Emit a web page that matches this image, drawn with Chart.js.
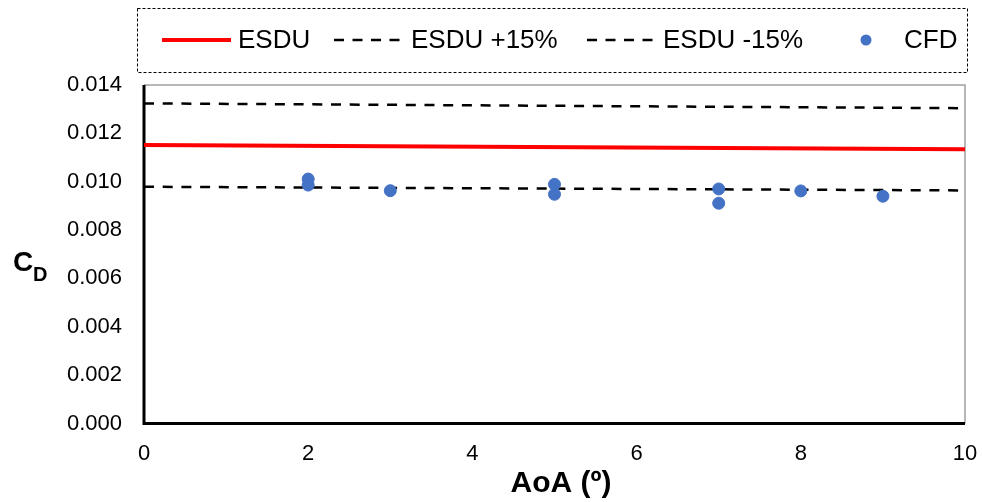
<!DOCTYPE html>
<html lang="en">
<head>
  <meta charset="UTF-8">
  <title>CD vs AoA</title>
  <script src="https://cdn.jsdelivr.net/npm/chart.js"></script>
  <style>
    body { margin: 0; background: #fff; }
    #wrap { width: 982px; height: 502px; }
  </style>
</head>
<body>
  <div id="wrap"><canvas id="cdChart"></canvas></div>

  <script>
    // line data (AoA endpoints)
    const aoaLine = [0, 10];
    const esdu = [0.01152, 0.01134];
    const esduPlus = [0.01324, 0.01304];
    const esduMinus = [0.00979, 0.00964];

    // CFD points
    const cfdAoa = [2, 2, 3, 5, 5, 7, 7, 8, 9];
    const cfdCd = [0.01011, 0.00986, 0.00963, 0.00989, 0.00948, 0.00970, 0.00911, 0.00962, 0.00940];

    const xTicks = [0, 2, 4, 6, 8, 10];
    const yTicks = [0, 0.002, 0.004, 0.006, 0.008, 0.010, 0.012, 0.014];

    const FONT = "'Liberation Sans', Arial, sans-serif";
    const pts = (xs, ys) => xs.map((x, i) => ({ x: x, y: ys[i] }));

    const frameAndText = {
      id: 'frameAndText',
      beforeDatasetsDraw(chart) {
        const { ctx, chartArea: a } = chart;
        ctx.save();
        // grey top/right
        ctx.strokeStyle = '#a0a0a0';
        ctx.lineWidth = 1.5;
        ctx.beginPath();
        ctx.moveTo(a.left, a.top);
        ctx.lineTo(a.right, a.top);
        ctx.lineTo(a.right, a.bottom);
        ctx.stroke();
        // black left/bottom
        ctx.strokeStyle = '#000';
        ctx.lineWidth = 3;
        ctx.beginPath();
        ctx.moveTo(a.left, a.top);
        ctx.lineTo(a.left, a.bottom);
        ctx.lineTo(a.right, a.bottom);
        ctx.stroke();
        ctx.restore();
      },
      afterDraw(chart) {
        const ctx = chart.ctx;
        ctx.save();
        ctx.fillStyle = '#000';
        ctx.textBaseline = 'middle';

        // axis titles
        ctx.font = 'bold 30px ' + FONT;
        ctx.textAlign = 'center';
        ctx.fillText('AoA (º)', 561, 484);
        ctx.textAlign = 'left';
        ctx.font = 'bold 28px ' + FONT;
        ctx.fillText('C', 13, 263);
        ctx.font = 'bold 20px ' + FONT;
        ctx.fillText('D', 33, 275);

        // legend box
        ctx.strokeStyle = '#000';
        ctx.lineWidth = 1;
        ctx.setLineDash([3, 2]);
        ctx.strokeRect(137.5, 8.5, 830, 64);

        const ly = 40;
        ctx.setLineDash([]);
        ctx.strokeStyle = '#ff0000';
        ctx.lineWidth = 4;
        ctx.beginPath();
        ctx.moveTo(162, ly); ctx.lineTo(231, ly);
        ctx.stroke();

        ctx.strokeStyle = '#000';
        ctx.lineWidth = 2.5;
        ctx.setLineDash([10, 8.5]);
        ctx.beginPath();
        ctx.moveTo(334, ly); ctx.lineTo(402, ly);
        ctx.moveTo(587, ly); ctx.lineTo(655, ly);
        ctx.stroke();
        ctx.setLineDash([]);

        ctx.fillStyle = '#4472c4';
        ctx.beginPath();
        ctx.arc(866, ly, 5.5, 0, Math.PI * 2);
        ctx.fill();

        ctx.fillStyle = '#000';
        ctx.font = '26px ' + FONT;
        ctx.fillText('ESDU', 238, ly + 1);
        ctx.fillText('ESDU +15%', 411, ly + 1);
        ctx.fillText('ESDU -15%', 663, ly + 1);
        ctx.fillText('CFD', 904, ly + 1);
        ctx.restore();
      }
    };

    new Chart(document.getElementById('cdChart'), {
      type: 'scatter',
      data: {
        datasets: [
          {
            label: 'ESDU',
            data: pts(aoaLine, esdu),
            showLine: true,
            borderColor: '#ff0000',
            borderWidth: 4,
            pointRadius: 0,
            order: 3
          },
          {
            label: 'ESDU +15%',
            data: pts(aoaLine, esduPlus),
            showLine: true,
            borderColor: '#000',
            borderWidth: 2.5,
            borderDash: [10, 8.7],
            pointRadius: 0,
            order: 2
          },
          {
            label: 'ESDU -15%',
            data: pts(aoaLine, esduMinus),
            showLine: true,
            borderColor: '#000',
            borderWidth: 2.5,
            borderDash: [10, 8.7],
            pointRadius: 0,
            order: 1
          },
          {
            label: 'CFD',
            data: pts(cfdAoa, cfdCd),
            backgroundColor: '#4472c4',
            borderColor: '#4472c4',
            pointRadius: 6,
            order: 0
          }
        ]
      },
      options: {
        responsive: true,
        maintainAspectRatio: false,
        animation: false,
        layout: { padding: { top: 85, right: 17, left: 0, bottom: 0 } },
        plugins: {
          legend: { display: false },
          tooltip: { enabled: false }
        },
        scales: {
          x: {
            type: 'linear',
            min: 0,
            max: 10,
            afterFit: s => { s.height = 78.5; s.paddingLeft = 0; s.paddingRight = 0; },
            afterBuildTicks: s => { s.ticks = xTicks.map(v => ({ value: v })); },
            grid: { display: false, drawTicks: false },
            border: { display: false },
            ticks: {
              padding: 17,
              color: '#000',
              font: { family: FONT, size: 22 },
              callback: v => String(v)
            }
          },
          y: {
            min: 0,
            max: 0.014,
            afterFit: s => { s.width = 144; s.paddingTop = 0; s.paddingBottom = 0; },
            afterBuildTicks: s => { s.ticks = yTicks.map(v => ({ value: v })); },
            grid: { display: false, drawTicks: false },
            border: { display: false },
            ticks: {
              padding: 22,
              color: '#000',
              font: { family: FONT, size: 22 },
              callback: v => Number(v).toFixed(3)
            }
          }
        }
      },
      plugins: [frameAndText]
    });
  </script>
</body>
</html>
